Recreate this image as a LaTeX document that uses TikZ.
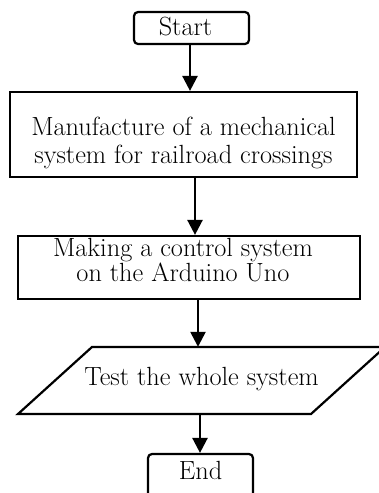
\documentclass[tikz,border=0pt]{standalone}
\usetikzlibrary{arrows.meta}
\begin{document}
\begin{tikzpicture}[x=1pt,y=-1pt,
  shapeline/.style={line width=2.2pt, line join=miter},
  procbox/.style={draw, line width=2.2pt, inner sep=0pt, font=\fontsize{26.3}{28}\selectfont, align=center},
  termbox/.style={procbox, rounded corners=4pt},
  arr/.style={line width=2.5pt, -{Triangle[length=15pt,width=15pt]}}]
\useasboundingbox (0,0) rectangle (379,493);
\clip (0,0) rectangle (379,493);

\node[termbox, minimum width=115pt, minimum height=32pt, text height=14pt, text depth=0pt] (start) at (191.5,28) {\hspace*{-12pt}Start};
\node[procbox, minimum width=347pt, minimum height=85pt, text height=57pt, text depth=0pt] (manu) at (183.5,134.5) {Manufacture of a mechanical\\system for railroad crossings};
\node[procbox, font=\fontsize{26.3}{20}\selectfont, minimum width=342pt, minimum height=63pt, text height=27pt, text depth=0pt] (make) at (189,267.5) {\hspace*{-12pt}Making a control system\\\hspace*{-12pt}on the Arduino Uno};
\node[inner sep=0pt, font=\fontsize{26.3}{28}\selectfont, minimum height=67pt, text height=9pt, text depth=0pt] (test) at (201.5,380.5) {Test the whole system};
\draw[shapeline] ([shift={(-183.5,33.5)}]test.center) -- ++(74,-67) -- ++(293,0) -- ++(-74,67) -- cycle;
\node[termbox, minimum width=105pt, minimum height=46pt, text height=4pt, text depth=0pt] (end) at (200.5,477) {End};

\coordinate (c1) at (190,0);
\coordinate (c2) at (195,0);
\coordinate (c3) at (198,0);
\coordinate (c4) at (200,0);
\draw[arr] (start.south -| c1) -- (manu.north -| c1);
\draw[arr] (manu.south -| c2) -- (make.north -| c2);
\draw[arr] (make.south -| c3) -- (test.north -| c3);
\draw[arr] (test.south -| c4) -- (end.north -| c4);
\end{tikzpicture}
\end{document}
